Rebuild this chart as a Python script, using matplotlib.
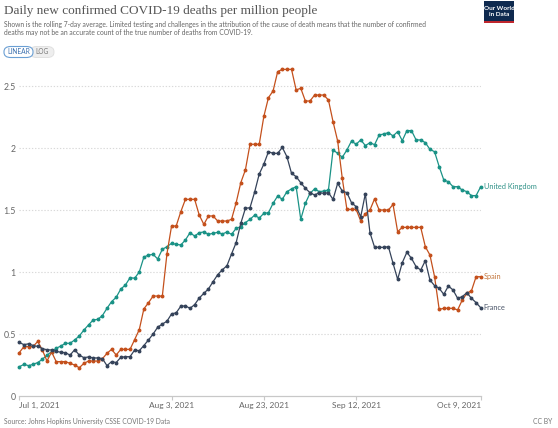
import matplotlib
matplotlib.use("Agg")
import matplotlib.pyplot as plt
from matplotlib.patches import FancyBboxPatch, Rectangle
import pandas as pd

dates = pd.date_range("2021-07-01", "2021-10-09", freq="D")

uk = [0.236, 0.255, 0.245, 0.255, 0.27, 0.296, 0.33, 0.357, 0.385, 0.403,
      0.425, 0.425, 0.452, 0.484, 0.532, 0.573, 0.613, 0.618, 0.648, 0.707,
      0.761, 0.796, 0.863, 0.895, 0.954, 0.95, 1.0, 1.12, 1.137, 1.142,
      1.105, 1.183, 1.204, 1.231, 1.223, 1.218, 1.258, 1.317, 1.29, 1.317,
      1.323, 1.304, 1.312, 1.32, 1.306, 1.323, 1.304, 1.352, 1.366, 1.398,
      1.425, 1.458, 1.435, 1.473, 1.478, 1.554, 1.613, 1.586, 1.648, 1.67,
      1.688, 1.425, 1.554, 1.634, 1.67, 1.648, 1.653, 1.661, 1.984, 1.957,
      1.925, 1.984, 2.056, 2.03, 2.065, 2.02, 2.042, 2.027, 2.105, 2.113,
      2.124, 2.097, 2.132, 2.059, 2.14, 2.14, 2.065, 2.065, 2.043, 1.989,
      1.97, 1.85, 1.742, 1.728, 1.688, 1.688, 1.661, 1.648, 1.616, 1.616,
      1.688]

spain = [0.35, 0.398, 0.398, 0.40, 0.44, 0.371, 0.282, 0.355, 0.277, 0.277,
         0.277, 0.263, 0.25, 0.228, 0.263, 0.282, 0.282, 0.282, 0.30, 0.344,
         0.376, 0.331, 0.376, 0.376, 0.376, 0.455, 0.535, 0.703, 0.752, 0.806,
         0.806, 0.806, 1.147, 1.371, 1.371, 1.486, 1.586, 1.586, 1.586, 1.459,
         1.384, 1.452, 1.452, 1.411, 1.411, 1.411, 1.425, 1.559, 1.72, 1.823,
         2.03, 2.03, 2.03, 2.255, 2.406, 2.46, 2.616, 2.634, 2.634, 2.634,
         2.468, 2.482, 2.379, 2.379, 2.427, 2.427, 2.427, 2.387, 2.212, 2.056,
         1.755, 1.505, 1.505, 1.505, 1.411, 1.47, 1.50, 1.59, 1.50, 1.50,
         1.50, 1.545, 1.325, 1.36, 1.36, 1.36, 1.36, 1.36, 1.204, 1.137,
         0.962, 0.699, 0.707, 0.707, 0.707, 0.694, 0.774, 0.828, 0.849, 0.962,
         0.962]

france = [0.432, 0.414, 0.421, 0.407, 0.40, 0.382, 0.373, 0.371, 0.36, 0.353,
          0.349, 0.33, 0.373, 0.33, 0.309, 0.315, 0.307, 0.307, 0.302, 0.245,
          0.277, 0.27, 0.312, 0.317, 0.317, 0.371, 0.365, 0.407, 0.452, 0.50,
          0.555, 0.58, 0.603, 0.662, 0.671, 0.724, 0.727, 0.707, 0.737, 0.79,
          0.828, 0.864, 0.922, 0.978, 1.018, 1.05, 1.146, 1.237, 1.392, 1.513,
          1.519, 1.644, 1.79, 1.87, 1.97, 1.957, 1.957, 2.005, 1.93, 1.796,
          1.769, 1.72, 1.675, 1.64, 1.621, 1.64, 1.634, 1.64, 1.586, 1.715,
          1.653, 1.64, 1.559, 1.527, 1.446, 1.632, 1.317, 1.20, 1.199, 1.199,
          1.204, 1.07, 0.941, 1.075, 1.159, 1.11, 1.043, 1.016, 1.091, 0.935,
          0.89, 0.868, 0.82, 0.887, 0.855, 0.788, 0.801, 0.833, 0.788, 0.753,
          0.712]

series_names = ["United Kingdom", "Spain", "France"]
series_values = [uk, spain, france]
series_colors = ["#1a9286", "#c4501c", "#35435a"]
label_colors = ["#2f9187", "#c4763c", "#4a5568"]

tick_dates = ["2021-07-01", "2021-08-03", "2021-08-23", "2021-09-12", "2021-10-09"]
tick_labels = ["Jul 1, 2021", "Aug 3, 2021", "Aug 23, 2021", "Sep 12, 2021", "Oct 9, 2021"]
y_ticks = [0, 0.5, 1, 1.5, 2, 2.5]
y_tick_labels = ["0", "0.5", "1", "1.5", "2", "2.5"]

plt.rcParams["font.family"] = ["Lato", "DejaVu Sans"]

W, H = 558, 428
fig = plt.figure(figsize=(W / 100, H / 100), dpi=100)

ax_left, ax_right = 19.3 / W, 480.7 / W
ax_bottom, ax_top = 1 - 396 / H, 1 - 61.2 / H
ax = fig.add_axes([ax_left, ax_bottom, ax_right - ax_left, ax_top - ax_bottom])

for name, vals, col in zip(series_names, series_values, series_colors):
    ax.plot(dates, vals, color=col, lw=0.9, marker="o", ms=1.8,
            mec=col, mfc=col, zorder=3, clip_on=False)

for name, vals, col in zip(series_names, series_values, label_colors):
    ax.annotate(name, xy=(dates[-1], vals[-1]), xytext=(2.2, 0),
                textcoords="offset points", va="center", ha="left",
                fontsize=5.3, color=col, annotation_clip=False)

ax.set_xlim(dates[0], dates[-1])
ax.set_ylim(0, 2.7)
ax.set_yticks(y_ticks)
ax.set_yticklabels(y_tick_labels)
ax.set_xticks(pd.to_datetime(tick_dates))
ax.set_xticklabels(tick_labels)

for y in y_ticks[1:]:
    ax.axhline(y, color="#d9d9d9", lw=0.8, ls=(0, (1.2, 1.6)), zorder=1)

for s in ["top", "right", "left"]:
    ax.spines[s].set_visible(False)
ax.spines["bottom"].set_color("#c8c8c8")
ax.spines["bottom"].set_linewidth(0.9)

ax.tick_params(axis="y", length=0, pad=2.5, labelsize=6.3, labelcolor="#666666")
ax.tick_params(axis="x", length=3, width=0.8, color="#c8c8c8", pad=1.5,
               labelsize=6.0, labelcolor="#666666")
ax.get_xticklabels()[0].set_ha("left")
ax.get_xticklabels()[-1].set_ha("right")
ax.set_facecolor("none")

# Title and subtitle
fig.text(4 / W, 1 - 11 / H, "Daily new confirmed COVID-19 deaths per million people",
         fontsize=9.5, color="#555555", va="center", ha="left",
         family=["Liberation Serif", "DejaVu Serif"])
fig.text(4 / W, 1 - 24 / H,
         "Shown is the rolling 7-day average. Limited testing and challenges in the attribution of the cause of death means that the number of confirmed",
         fontsize=4.85, color="#666666", va="center", ha="left")
fig.text(4 / W, 1 - 32.5 / H,
         "deaths may not be an accurate count of the true number of deaths from COVID-19.",
         fontsize=4.85, color="#666666", va="center", ha="left")

# LINEAR / LOG toggle
log_box = FancyBboxPatch((30 / W, 1 - 57.5 / H), 24 / W, 11 / H,
                         boxstyle="round,pad=0,rounding_size=0.012",
                         transform=fig.transFigure, facecolor="#eeeeee",
                         edgecolor="#dddddd", lw=0.6)
fig.patches.append(log_box)
lin_box = FancyBboxPatch((4 / W, 1 - 57.5 / H), 29 / W, 11 / H,
                         boxstyle="round,pad=0,rounding_size=0.012",
                         transform=fig.transFigure, facecolor="white",
                         edgecolor="#6a9fd4", lw=0.8)
fig.patches.append(lin_box)
fig.text(18.5 / W, 1 - 52 / H, "LINEAR", fontsize=4.8, color="#3b6fae",
         ha="center", va="center")
fig.text(42.5 / W, 1 - 52 / H, "LOG", fontsize=4.8, color="#777777",
         ha="center", va="center")

# OWID logo
logo = Rectangle((484 / W, 1 - 23 / H), 30 / W, 22 / H, transform=fig.transFigure,
                 facecolor="#0f2a4f", edgecolor="none")
fig.patches.append(logo)
logo_red = Rectangle((484 / W, 1 - 23 / H), 30 / W, 1.6 / H, transform=fig.transFigure,
                     facecolor="#c0272d", edgecolor="none")
fig.patches.append(logo_red)
fig.text(499 / W, 1 - 11.5 / H, "Our World\nin Data", fontsize=4.6, color="white",
         ha="center", va="center", fontweight="bold", linespacing=1.0)

# Footer
fig.text(4 / W, 1 - 421.5 / H, "Source: Johns Hopkins University CSSE COVID-19 Data",
         fontsize=4.9, color="#777777", ha="left", va="center")
fig.text(552 / W, 1 - 421.5 / H, "CC BY", fontsize=4.9, color="#777777",
         ha="right", va="center")

fig.savefig("out.png", dpi=100, facecolor="white")
